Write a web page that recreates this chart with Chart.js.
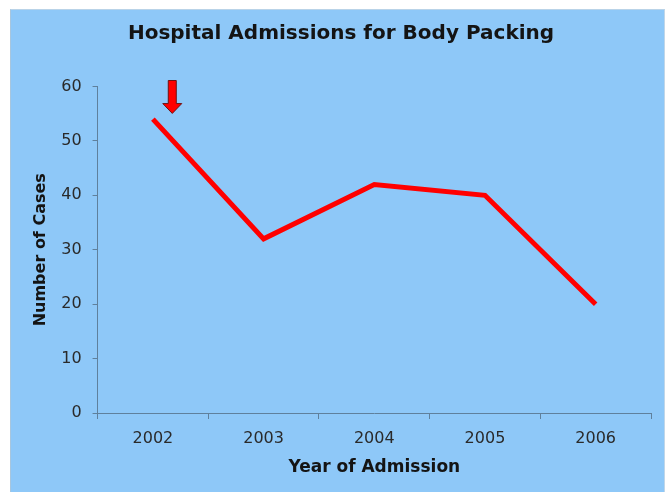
<!DOCTYPE html>
<html>
<head>
<meta charset="utf-8">
<script src="https://cdn.jsdelivr.net/npm/chart.js@4"></script>
<style>
  html, body { margin: 0; padding: 0; background: #ffffff; }
  #wrap { position: absolute; left: 10px; top: 9px; width: 655px; height: 483px; background: #8ec8f8; border-left: 1px solid #a8c6de; border-top: 1px solid #b9d3e8; border-right: 1px solid #c0d6e8; box-sizing: border-box; }
  canvas { display: block; }
</style>
</head>
<body>
<div id="wrap"><canvas id="c"></canvas></div>
<script>
const categories = ["2002", "2003", "2004", "2005", "2006"];
const cases = [54, 32, 42, 40, 20];
const yTicks = [0, 10, 20, 30, 40, 50, 60];
const arrowAt = { index: 0.175, fromValue: 61.1, toValue: 55.05 };

const arrowPlugin = {
  id: 'arrow',
  afterDatasetsDraw(chart) {
    const { ctx, scales } = chart;
    const x = scales.x.getPixelForValue(arrowAt.index);
    const y0 = scales.y.getPixelForValue(arrowAt.fromValue);
    const y1 = scales.y.getPixelForValue(arrowAt.toValue);
    const len = y1 - y0;
    const shaftW = 8, headW = 19, headH = len * 0.3;
    ctx.save();
    ctx.beginPath();
    ctx.moveTo(x - shaftW / 2, y0);
    ctx.lineTo(x + shaftW / 2, y0);
    ctx.lineTo(x + shaftW / 2, y1 - headH);
    ctx.lineTo(x + headW / 2, y1 - headH);
    ctx.lineTo(x, y1);
    ctx.lineTo(x - headW / 2, y1 - headH);
    ctx.lineTo(x - shaftW / 2, y1 - headH);
    ctx.closePath();
    ctx.fillStyle = '#ff0000';
    ctx.fill();
    ctx.strokeStyle = '#6e1212';
    ctx.lineWidth = 1;
    ctx.stroke();
    ctx.restore();
  }
};

new Chart(document.getElementById('c'), {
  type: 'line',
  data: {
    labels: categories,
    datasets: [{
      data: cases,
      borderColor: '#ff0000',
      borderWidth: 5,
      pointRadius: 0,
      tension: 0,
      fill: false,
      borderCapStyle: 'butt'
    }]
  },
  options: {
    responsive: true,
    maintainAspectRatio: false,
    animation: false,
    devicePixelRatio: 1,
    layout: { padding: { left: 20, right: 13, top: 0, bottom: 16 } },
    plugins: {
      legend: { display: false },
      tooltip: { enabled: false },
      title: {
        display: true,
        text: 'Hospital Admissions for Body Packing',
        color: '#141414',
        font: { family: 'DejaVu Sans', size: 20, weight: 'bold' },
        padding: { top: 12, bottom: 40.5 }
      }
    },
    scales: {
      x: {
        type: 'category',
        offset: true,
        grid: { display: true, offset: true, drawOnChartArea: false, tickLength: 6, color: '#5f809c' },
        border: { display: true, color: '#5f809c', width: 1 },
        ticks: { color: '#2a2a2a', font: { family: 'DejaVu Sans', size: 16, lineHeight: 1.0 }, padding: 12 },
        title: { display: true, text: 'Year of Admission', color: '#141414', font: { family: 'DejaVu Sans', size: 17, weight: 'bold', lineHeight: 1.0 }, padding: { top: 0, bottom: 0 } }
      },
      y: {
        min: 0, max: 60,
        afterBuildTicks(axis) { axis.ticks = yTicks.map(v => ({ value: v })); },
        grid: { display: true, drawOnChartArea: false, tickLength: 5, color: '#5f809c' },
        border: { display: true, color: '#5f809c', width: 1 },
        ticks: { color: '#2a2a2a', font: { family: 'DejaVu Sans', size: 16 }, padding: 11 },
        title: { display: true, text: 'Number of Cases', color: '#141414', font: { family: 'DejaVu Sans', size: 16, weight: 'bold' }, padding: { top: 0, bottom: 0 } }
      }
    }
  },
  plugins: [arrowPlugin]
});
</script>
</body>
</html>
